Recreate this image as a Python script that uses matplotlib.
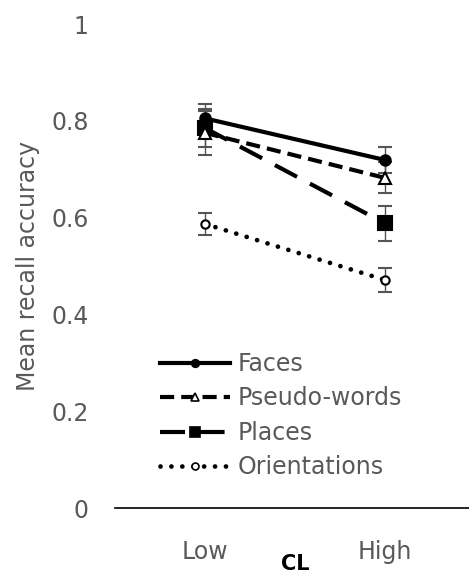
import matplotlib
matplotlib.use("Agg")
import matplotlib.pyplot as plt
from matplotlib.lines import Line2D

categories = ["Low", "High"]
series_names = ["Faces", "Pseudo-words", "Places", "Orientations"]
faces = [0.805, 0.719]
faces_err = [0.030, 0.027]
pseudo = [0.775, 0.682]
pseudo_err = [0.045, 0.032]
places = [0.785, 0.588]
places_err = [0.040, 0.036]
orient = [0.587, 0.471]
orient_err = [0.023, 0.024]
yticks = [0, 0.2, 0.4, 0.6, 0.8, 1]
ytick_labels = ["0", "0.2", "0.4", "0.6", "0.8", "1"]

plt.rcParams['font.family'] = ['DejaVu Sans']
gray = "#595959"

fig = plt.figure(figsize=(4.69, 5.73), dpi=100)
ax = fig.add_axes([115/469, 65/573, 360/469, 484/573])
x = list(range(len(categories)))

styles = {
    "Orientations": dict(values=orient, err=orient_err, ls=(0, (0.01, 2.3)), marker='o', mfc='white', ms=6, lw=3.4, cap='round', lms=5),
    "Places": dict(values=places, err=places_err, ls=(0, (6, 3.5)), marker='s', mfc='black', ms=9.5, lw=3.0, cap='butt', lms=7),
    "Pseudo-words": dict(values=pseudo, err=pseudo_err, ls=(0, (3.4, 1.7)), marker='^', mfc='white', ms=8, lw=3.0, cap='butt', lms=6),
    "Faces": dict(values=faces, err=faces_err, ls='-', marker='o', mfc='black', ms=7.5, lw=3.0, cap='butt', lms=5.5),
}
draw_order = ["Orientations", "Places", "Pseudo-words", "Faces"]
for name in draw_order:
    st = styles[name]
    eb = ax.errorbar(x, st['values'], yerr=st['err'], color='black', ecolor='#555555',
                     elinewidth=1, capsize=4.7, capthick=1,
                     linestyle=st['ls'], lw=st['lw'], marker=st['marker'],
                     markerfacecolor=st['mfc'], markeredgecolor='black',
                     markeredgewidth=1.5, markersize=st['ms'])
    eb[0].set_dash_capstyle(st['cap'])

ax.set_xlim(-0.5, 1.5)
ax.set_ylim(0, 1)
ax.set_yticks(yticks)
ax.set_yticklabels(ytick_labels)
ax.set_xticks(x)
ax.set_xticklabels(categories)
for s in ['left', 'right', 'top']:
    ax.spines[s].set_visible(False)
ax.spines['bottom'].set_linewidth(1.2)
ax.spines['bottom'].set_color('black')
ax.tick_params(axis='y', length=0, pad=19, labelsize=17, labelcolor=gray)
ax.tick_params(axis='x', length=0, pad=23, labelsize=17, labelcolor=gray)
ax.set_xlabel("CL", fontsize=15, fontweight='bold', color='black', labelpad=-7)
ax.set_ylabel("Mean recall accuracy", fontsize=17, color=gray, labelpad=8)

handles = []
for name in series_names:
    st = styles[name]
    h = Line2D([], [], color='black', linestyle=st['ls'], lw=st['lw'],
               marker=st['marker'], markerfacecolor=st['mfc'], markeredgecolor='black',
               markeredgewidth=1.2, markersize=st['lms'], dash_capstyle=st['cap'])
    handles.append(h)
leg = fig.legend(handles, series_names, loc='upper left',
                 bbox_to_anchor=(160/469, 1 - 352/573), frameon=False,
                 fontsize=17, handlelength=2.97, handletextpad=0.3,
                 labelspacing=0.44, borderaxespad=0, borderpad=0, labelcolor=gray)

fig.savefig("out.png", dpi=100)
